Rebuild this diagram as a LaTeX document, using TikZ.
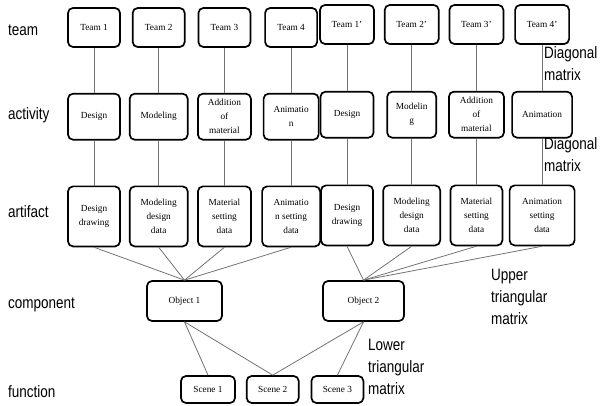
\documentclass[tikz,border=0pt]{standalone}
\usepackage{fontspec}
\setmainfont{Liberation Serif}
\newfontfamily\lblfont{Liberation Sans}
\usetikzlibrary{positioning}

\tikzset{
	box/.style={draw, line width=1.7pt, rounded corners=5pt, align=center, inner sep=1pt, font=\fontsize{9.3}{14}\selectfont},
	tbox/.style={box, minimum width=52pt, minimum height=39pt},
	abox/.style={box, minimum height=46pt},
	rbox/.style={box, minimum height=60pt},
	obox/.style={box, minimum height=40pt},
	sbox/.style={box, minimum width=52pt, minimum height=27pt},
	level/.style={font=\lblfont\fontsize{13.5}{18}\selectfont, anchor=west, align=left, inner sep=0pt, yscale=1.22},
	link/.style={draw=black!55, line width=0.8pt},
}

\begin{document}
\begin{tikzpicture}[x=1pt, y=1pt]
	\useasboundingbox (0,0) rectangle (600,405);

	% team
	\node[tbox] 						(T1) at (94,377.5) 		{Team 1};
	\node[tbox] 						(T2) [right	=11pt of T1] 	{Team 2};
	\node[tbox] 						(T3) [right	=12pt of T2] 	{Team 3};
	\node[tbox] 						(T4) [right	=13pt of T3] 	{Team 4};
	\node[tbox, minimum width=54pt] 	(T5) at (347,380.5) 		{Team 1'};
	\node[tbox, minimum width=54pt] 	(T6) [right	=9pt of T5] 	{Team 2'};
	\node[tbox, minimum width=54pt] 	(T7) [right	=9pt of T6] 	{Team 3'};
	\node[tbox, minimum width=54pt] 	(T8) [right	=10pt of T7] 	{Team 4'};

	% activity
	\node[abox, minimum width=52pt] 	(A1) [below	=45pt of T1] 	{Design};
	\node[abox, minimum width=58pt] 	(A2) [below	=45pt of T2] 	{Modeling};
	\node[abox, minimum width=53pt] 	(A3) [below	=45pt of T3] 	{Addition\\of\\material};
	\node[abox, minimum width=55pt] 	(A4) [below	=45pt of T4] 	{Animatio\\n};
	\node[abox, minimum width=53pt] 	(A5) [below	=46pt of T5] 	{Design};
	\node[abox, minimum width=49pt] 	(A6) [below	=46pt of T6] 	{Modelin\\g};
	\node[abox, minimum width=55pt] 	(A7) [below	=46pt of T7] 	{Addition\\of\\material};
	\node[abox, minimum width=60pt] 	(A8) [below	=46pt of T8] 	{Animation};

	% artifact
	\node[rbox, minimum width=52pt] 	(R1) [below	=45pt of A1] 	{Design\\drawing};
	\node[rbox, minimum width=58pt] 	(R2) [below	=45pt of A2] 	{Modeling\\design\\data};
	\node[rbox, minimum width=53pt] 	(R3) [below	=45pt of A3] 	{Material\\setting\\data};
	\node[rbox, minimum width=58pt] 	(R4) [below	=45pt of A4] 	{Animatio\\n setting\\data};
	\node[rbox, minimum width=52pt] 	(R5) [below	=46pt of A5] 	{Design\\drawing};
	\node[rbox, minimum width=57pt] 	(R6) [below	=46pt of A6] 	{Modeling\\design\\data};
	\node[rbox, minimum width=52pt] 	(R7) [below	=46pt of A7] 	{Material\\setting\\data};
	\node[rbox, minimum width=65pt] 	(R8) [below	=46pt of A8] 	{Animation\\setting\\data};

	% component
	\node[obox, minimum width=75pt] 	(O1) at (184.5,104) 		{Object 1};
	\node[obox, minimum width=81pt] 	(O2) at (363.5,104) 		{Object 2};

	% function
	\node[sbox, minimum width=54pt] 	(S1) at (208,15.5) 		{Scene 1};
	\node[sbox] 						(S2) [right	=10pt of S1] 	{Scene 2};
	\node[sbox] 						(S3) [right	=11pt of S2] 	{Scene 3};

	% level names
	\node[level] (team) 		at (8,375) 		{team};
	\node[level] (activity) 	at (8,290) 		{activity};
	\node[level] (artifact) 	at (8,193) 		{artifact};
	\node[level] (component) 	at (8,100) 		{component};
	\node[level] (function) 	at (8,13) 		{function};

	% matrix kinds
	\node[level] (diagA) 		at (544,341) 	{Diagonal\\matrix};
	\node[level] (diagB) 		at (544,250) 	{Diagonal\\matrix};
	\node[level] (upper) 		at (491,108) 	{Upper\\triangular\\matrix};
	\node[level] (lower) 		at (368,38) 	{Lower\\triangular\\matrix};

	\path[link]
	(T1) edge (A1)	(T2) edge (A2)	(T3) edge (A3)	(T4) edge (A4)
	(T5) edge (A5)	(T6) edge (A6)	(T7) edge (A7)	(T8) edge (A8)
	(A1) edge (R1)	(A2) edge (R2)	(A3) edge (R3)	(A4) edge (R4)
	(A5) edge (R5)	(A6) edge (R6)	(A7) edge (R7)	(A8) edge (R8)
	(R1.south) edge (O1.north)
	(R2.south) edge (O1.north)
	(R3.south) edge (O1.north)
	(R4.south) edge (O1.north)
	(R5.south) edge (O2.north)
	(R6.south) edge (O2.north)
	(R7.south) edge (O2.north)
	(R8.south) edge (O2.north)
	(O1.south) edge (S1.north)
			   edge (S2.north)
	(O2.south) edge (S2.north)
			   edge (S3.north)
;

\end{tikzpicture}
\end{document}
